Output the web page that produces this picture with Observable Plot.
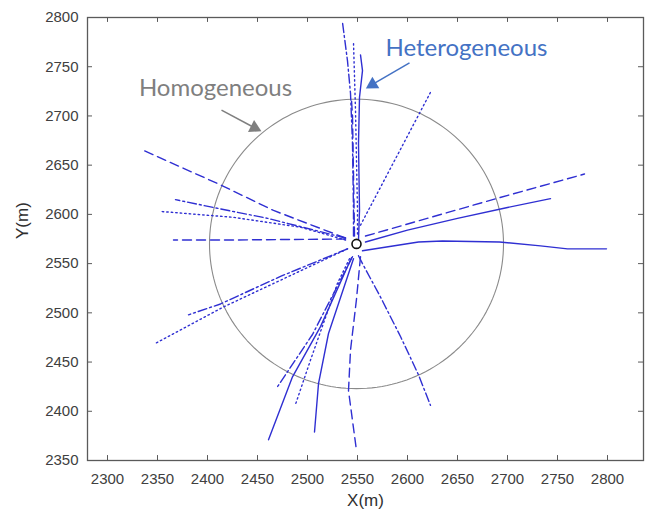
<!DOCTYPE html>
<html><head><meta charset="utf-8">
<script src="https://cdn.jsdelivr.net/npm/d3@7"></script>
<script src="https://cdn.jsdelivr.net/npm/@observablehq/plot@0.6"></script>
<style>body{margin:0;background:#fff}</style>
</head><body><div id="chart"></div>
<script>
// ---- axis ticks ----
const xTicks = [2300, 2350, 2400, 2450, 2500, 2550, 2600, 2650, 2700, 2750, 2800];
const yTicks = [2350, 2400, 2450, 2500, 2550, 2600, 2650, 2700, 2750, 2800];

// ---- injection point and homogeneous front ----
const injector = [2549, 2570];
const homogeneousRadius = [147];

// ---- heterogeneous fronts (x, y pairs) ----
const solid1 = [[2551,2574],[2552,2604],[2551,2672],[2552,2719],[2555,2746],[2553,2762]];
const solid2 = [[2555,2563],[2611,2572],[2635,2573],[2692,2572],[2733,2568],[2760,2565],[2799,2565]];
const solid3 = [[2558,2572],[2600,2584],[2650,2596],[2700,2607],[2743,2616]];
const solid4 = [[2544,2556],[2513,2486],[2485,2435],[2461,2371]];
const solid5 = [[2546,2555],[2521,2479],[2511,2428],[2507,2379]];

const dashed1 = [[2538,2576],[2466,2604],[2413,2630],[2336,2665]];
const dashed2 = [[2538,2575],[2426,2574],[2366,2574]];
const dashed3 = [[2558,2578],[2692,2617],[2777,2641]];
const dashed4 = [[2553,2557],[2549,2514],[2543,2462],[2541,2421],[2549,2360]];
const dashed5 = [[2547,2578],[2546,2640],[2545,2700],[2544,2716]];

const dotted1 = [[2538,2574],[2493,2587],[2426,2597],[2353,2603]];
const dotted2 = [[2540,2565],[2416,2506],[2348,2469]];
const dotted3 = [[2542,2555],[2530,2530],[2503,2452],[2488,2407]];
const dotted4 = [[2553,2589],[2623,2724]];
const dotted5 = [[2550,2580],[2550,2604],[2548,2706],[2546,2775]];

const dashdot1 = [[2538,2576],[2460,2596],[2406,2607],[2368,2615]];
const dashdot2 = [[2540,2565],[2473,2537],[2413,2509],[2381,2498]];
const dashdot3 = [[2551,2558],[2555,2550],[2573,2516],[2593,2476],[2611,2437],[2623,2406]];
const dashdot4 = [[2546,2578],[2546,2604],[2545,2672],[2543,2723],[2540,2756],[2535,2795]];
const dashdot5 = [[2545,2557],[2505,2478],[2470,2425]];

// ---- annotations ----
const labelHetero = {text: "Heterogeneous", x: 2659, y: 2769};
const labelHomo = {text: "Homogeneous", x: 2408, y: 2728};
const arrowHetero = {x1: 2602, y1: 2754, x2: 2565, y2: 2732};
const arrowHomo = {x1: 2414, y1: 2706, x2: 2447, y2: 2688};

// build tables
function toRows(groups) {
  const rows = [];
  groups.forEach((g, i) => g.forEach(([x, y]) => rows.push({id: i, x, y})));
  return rows;
}
const circleRows = d3.range(0, 361, 2).map(a => ({
  x: injector[0] + homogeneousRadius[0] * Math.cos(a * Math.PI / 180),
  y: injector[1] + homogeneousRadius[0] * Math.sin(a * Math.PI / 180)
}));

const blue = "#2f2fd2";
const styles = [
  {rows: toRows([solid1, solid2, solid3, solid4, solid5]), dash: null},
  {rows: toRows([dashed1, dashed2, dashed3, dashed4, dashed5]), dash: "9,5"},
  {rows: toRows([dotted1, dotted2, dotted3, dotted4, dotted5]), dash: "1.5,3"},
  {rows: toRows([dashdot1, dashdot2, dashdot3, dashdot4, dashdot5]), dash: "9,3,2,3"}
];

const tickLen = 5;
const axisColor = "#5a5a5a";

const chart = Plot.plot({
  width: 645, height: 516,
  marginLeft: 87, marginRight: 2, marginTop: 17, marginBottom: 56,
  x: {domain: [2280, 2836]},
  y: {domain: [2350, 2800]},
  style: {fontFamily: "Liberation Sans, Arial, sans-serif", fontSize: "15px", color: "#404040", background: "#fff"},
  marks: [
    Plot.line(circleRows, {x: "x", y: "y", stroke: "#8a8a8a", strokeWidth: 1.1}),
    ...styles.map(s => Plot.line(s.rows, {x: "x", y: "y", z: "id", stroke: blue, strokeWidth: 1.4, strokeDasharray: s.dash})),
    Plot.dot([injector], {x: d => d[0], y: d => d[1], r: 4.5, stroke: "#111", strokeWidth: 1.6, fill: "white"}),
    // ticks pointing inward
    Plot.ruleX(xTicks, {x: d => d, y1: 2350, y2: 2350 + tickLen, stroke: axisColor}),
    Plot.ruleX(xTicks, {x: d => d, y1: 2800, y2: 2800 - tickLen, stroke: axisColor}),
    Plot.ruleY(yTicks, {y: d => d, x1: 2280, x2: 2280 + tickLen, stroke: axisColor}),
    Plot.ruleY(yTicks, {y: d => d, x1: 2836, x2: 2836 - tickLen, stroke: axisColor}),
    Plot.frame({stroke: axisColor, strokeWidth: 1.3}),
    Plot.axisX({ticks: xTicks, tickSize: 0, tickPadding: 13, label: null, tickFormat: d => String(d)}),
    Plot.axisY({ticks: yTicks, tickSize: 0, tickPadding: 9, label: null, tickFormat: d => String(d)}),
    Plot.text(["X(m)"], {frameAnchor: "bottom", dy: 45, fontSize: 17, fill: "#303030"}),
    Plot.text(["Y(m)"], {frameAnchor: "left", dx: -65, rotate: -90, fontSize: 17, fill: "#303030"}),
    // annotations
    Plot.link([arrowHetero], {x1: "x1", y1: "y1", x2: "x2", y2: "y2", stroke: "#4472c4", strokeWidth: 1.5}),
    Plot.dot([arrowHetero], {x: "x2", y: "y2", symbol: "triangle", r: 5, fill: "#4472c4", stroke: "none", rotate: 239}),
    Plot.link([arrowHomo], {x1: "x1", y1: "y1", x2: "x2", y2: "y2", stroke: "#7f7f7f", strokeWidth: 1.5}),
    Plot.dot([arrowHomo], {x: "x2", y: "y2", symbol: "triangle", r: 5, fill: "#7f7f7f", stroke: "none", rotate: 117}),
    Plot.text([labelHetero], {x: "x", y: "y", text: "text", fill: "#4472c4", fontSize: 24, fontFamily: "Lato, Open Sans, sans-serif"}),
    Plot.text([labelHomo], {x: "x", y: "y", text: "text", fill: "#7f7f7f", fontSize: 24, fontFamily: "Lato, Open Sans, sans-serif"})
  ]
});
document.getElementById("chart").append(chart);
</script>
</body></html>
